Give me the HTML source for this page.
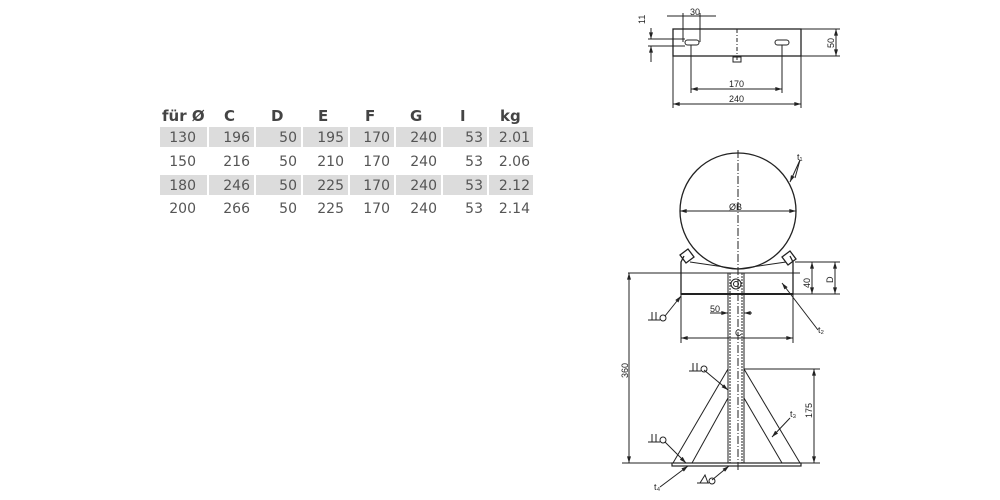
<!DOCTYPE html>
<html><head><meta charset="utf-8"><style>
body{margin:0;background:#fff;width:1000px;height:500px;overflow:hidden;position:relative;font-family:"DejaVu Sans","Liberation Sans",sans-serif}
.t{position:absolute;left:0;top:0}
.c{position:absolute;font-size:14px;color:#555}
.h{position:absolute;font-size:15px;font-weight:bold;color:#444}
.g{position:absolute;background:#dcdcdc;height:20px}
</style></head><body>
<div class="g" style="left:160px;top:127px;width:47px"></div>
<div class="g" style="left:209px;top:127px;width:45px"></div>
<div class="g" style="left:256px;top:127px;width:45px"></div>
<div class="g" style="left:303px;top:127px;width:45px"></div>
<div class="g" style="left:350px;top:127px;width:44px"></div>
<div class="g" style="left:396px;top:127px;width:45px"></div>
<div class="g" style="left:443px;top:127px;width:44px"></div>
<div class="g" style="left:489px;top:127px;width:44px"></div>
<div class="g" style="left:160px;top:175px;width:47px"></div>
<div class="g" style="left:209px;top:175px;width:45px"></div>
<div class="g" style="left:256px;top:175px;width:45px"></div>
<div class="g" style="left:303px;top:175px;width:45px"></div>
<div class="g" style="left:350px;top:175px;width:44px"></div>
<div class="g" style="left:396px;top:175px;width:45px"></div>
<div class="g" style="left:443px;top:175px;width:44px"></div>
<div class="g" style="left:489px;top:175px;width:44px"></div>
<svg class="t" width="1000" height="500" font-family="DejaVu Sans, sans-serif">
<g font-size="15" font-weight="bold" fill="#444">
<text x="162" y="121">für Ø</text><text x="224" y="121">C</text><text x="271" y="121">D</text><text x="318" y="121">E</text><text x="365" y="121">F</text><text x="410" y="121">G</text><text x="460" y="121">I</text><text x="500" y="121">kg</text>
</g>
<g font-size="14" fill="#555" text-anchor="end">
<text x="196" y="142">130</text><text x="250" y="142">196</text><text x="297" y="142">50</text><text x="344" y="142">195</text><text x="390" y="142">170</text><text x="437" y="142">240</text><text x="483" y="142">53</text><text x="530" y="142">2.01</text>
<text x="196" y="166">150</text><text x="250" y="166">216</text><text x="297" y="166">50</text><text x="344" y="166">210</text><text x="390" y="166">170</text><text x="437" y="166">240</text><text x="483" y="166">53</text><text x="530" y="166">2.06</text>
<text x="196" y="190">180</text><text x="250" y="190">246</text><text x="297" y="190">50</text><text x="344" y="190">225</text><text x="390" y="190">170</text><text x="437" y="190">240</text><text x="483" y="190">53</text><text x="530" y="190">2.12</text>
<text x="196" y="213">200</text><text x="250" y="213">266</text><text x="297" y="213">50</text><text x="344" y="213">225</text><text x="390" y="213">170</text><text x="437" y="213">240</text><text x="483" y="213">53</text><text x="530" y="213">2.14</text>
</g>
<defs><marker id="a" viewBox="0 0 10 6" refX="10" refY="3" markerWidth="8" markerHeight="4" orient="auto-start-reverse"><path d="M0 0L10 3L0 6z" fill="#222"/></marker></defs>
<g stroke="#222" fill="none" stroke-width="1">
<!-- top plate -->
<rect x="673" y="29" width="128" height="27" stroke-width="1.3"/>
<rect x="685" y="40" width="14" height="5" rx="2.5"/><rect x="775" y="40" width="14" height="5" rx="2.5"/>
<line x1="737" y1="29" x2="737" y2="60" stroke-dasharray="4 2 1 2"/>
<rect x="733" y="57" width="8" height="5"/>
<line x1="673" y1="56" x2="673" y2="108"/><line x1="801" y1="56" x2="801" y2="108"/>
<line x1="691" y1="45" x2="691" y2="93"/><line x1="782" y1="45" x2="782" y2="93"/>
<line x1="691" y1="89" x2="782" y2="89" marker-start="url(#a)" marker-end="url(#a)"/>
<line x1="673" y1="104" x2="801" y2="104" marker-start="url(#a)" marker-end="url(#a)"/>
<line x1="683" y1="13" x2="683" y2="42"/><line x1="700" y1="13" x2="700" y2="42"/>
<line x1="667" y1="16" x2="716" y2="16"/>
<line x1="648" y1="39" x2="685" y2="39"/><line x1="648" y1="46" x2="685" y2="46"/>
<line x1="651" y1="28" x2="651" y2="39" marker-end="url(#a)"/><line x1="651" y1="46" x2="651" y2="62" marker-start="url(#a)"/>
<line x1="801" y1="29" x2="840" y2="29"/><line x1="801" y1="56" x2="840" y2="56"/>
<line x1="836" y1="29" x2="836" y2="56" marker-start="url(#a)" marker-end="url(#a)"/>
<!-- circle -->
<circle cx="738" cy="211" r="58" stroke-width="1.3"/>
<line x1="738" y1="150" x2="738" y2="470" stroke-dasharray="8 2 1 2"/>
<line x1="680" y1="211" x2="796" y2="211" marker-start="url(#a)" marker-end="url(#a)"/>
<line x1="795" y1="178" x2="800" y2="160"/>
<line x1="800" y1="160" x2="790" y2="182" marker-end="url(#a)"/>
<!-- bracket -->
<path d="M684 256 L681 262 L681 294 L793 294 L793 262 L790 256" stroke-width="1.3"/>
<line x1="681" y1="294" x2="793" y2="294" stroke-width="2"/>
<path d="M690 262 L738 269 L786 262"/>
<path d="M680 255 l8 -6 l6 8 l-8 6z M782 257 l8 -6 l6 8 l-8 6z" stroke-width="1.3"/>
<line x1="628" y1="273" x2="800" y2="273"/>
<rect x="728" y="273" width="16" height="190"/>
<line x1="730" y1="273" x2="730" y2="463" stroke-dasharray="2 1"/><line x1="742" y1="273" x2="742" y2="463" stroke-dasharray="2 1"/>
<circle cx="736" cy="284" r="5"/><circle cx="736" cy="284" r="2.5"/>
<!-- base -->
<rect x="672" y="463" width="129" height="3" stroke-width="1.2"/>
<line x1="728" y1="369" x2="673" y2="463"/><line x1="728" y1="398" x2="692" y2="463"/>
<line x1="744" y1="369" x2="800" y2="463"/><line x1="744" y1="398" x2="782" y2="463"/>
<!-- dims -->
<line x1="629" y1="273" x2="629" y2="463" marker-start="url(#a)" marker-end="url(#a)"/>
<line x1="622" y1="463" x2="672" y2="463"/>
<line x1="681" y1="294" x2="681" y2="343"/><line x1="793" y1="294" x2="793" y2="343"/>
<line x1="681" y1="338" x2="793" y2="338" marker-start="url(#a)" marker-end="url(#a)"/>
<line x1="710" y1="313" x2="728" y2="313" marker-end="url(#a)"/><line x1="744" y1="313" x2="752" y2="313" marker-start="url(#a)"/>
<line x1="744" y1="369" x2="820" y2="369"/><line x1="801" y1="463" x2="820" y2="463"/>
<line x1="814" y1="369" x2="814" y2="463" marker-start="url(#a)" marker-end="url(#a)"/>
<line x1="795" y1="262" x2="840" y2="262"/><line x1="793" y1="294" x2="840" y2="294"/>
<line x1="812" y1="262" x2="812" y2="294" marker-start="url(#a)" marker-end="url(#a)"/>
<line x1="835" y1="262" x2="835" y2="294" marker-start="url(#a)" marker-end="url(#a)"/>
<!-- leaders -->
<line x1="665" y1="316" x2="681" y2="296" marker-end="url(#a)"/>
<circle cx="663" cy="318" r="3"/><path d="M648 320 H660 M652 312 v8 M656 312 v8"/>
<line x1="818" y1="330" x2="782" y2="283" marker-end="url(#a)"/>
<line x1="704" y1="370" x2="728" y2="390" marker-end="url(#a)"/>
<circle cx="704" cy="369" r="3"/><path d="M689 371 H701 M693 363 v8 M697 363 v8"/>
<line x1="665" y1="442" x2="686" y2="463" marker-end="url(#a)"/>
<circle cx="663" cy="440" r="3"/><path d="M648 442 H660 M652 434 v8 M656 434 v8"/>
<line x1="660" y1="487" x2="688" y2="466" marker-end="url(#a)"/>
<line x1="712" y1="480" x2="729" y2="466" marker-end="url(#a)"/>
<circle cx="712" cy="481" r="3"/><path d="M697 483 H709 M700 483 l5 -8 l3 8"/>
<line x1="790" y1="418" x2="772" y2="437" marker-end="url(#a)"/>
</g>
<g font-size="9" fill="#222" font-family="Liberation Sans, sans-serif">
<text x="690" y="15">30</text>
<text x="645" y="24" transform="rotate(-90 645 24)">11</text>
<text x="834" y="48" transform="rotate(-90 834 48)">50</text>
<text x="729" y="87">170</text><text x="729" y="102">240</text>
<text x="729" y="210">ØB</text>
<text x="797" y="160">t₁</text>
<text x="818" y="333">t₂</text><text x="790" y="417">t₃</text><text x="654" y="490">t₄</text>
<text x="710" y="312">50</text><text x="735" y="336">C</text>
<text x="628" y="378" transform="rotate(-90 628 378)">360</text>
<text x="812" y="418" transform="rotate(-90 812 418)">175</text>
<text x="810" y="288" transform="rotate(-90 810 288)">40</text>
<text x="833" y="283" transform="rotate(-90 833 283)">D</text>
</g>
</svg>
</body></html>
